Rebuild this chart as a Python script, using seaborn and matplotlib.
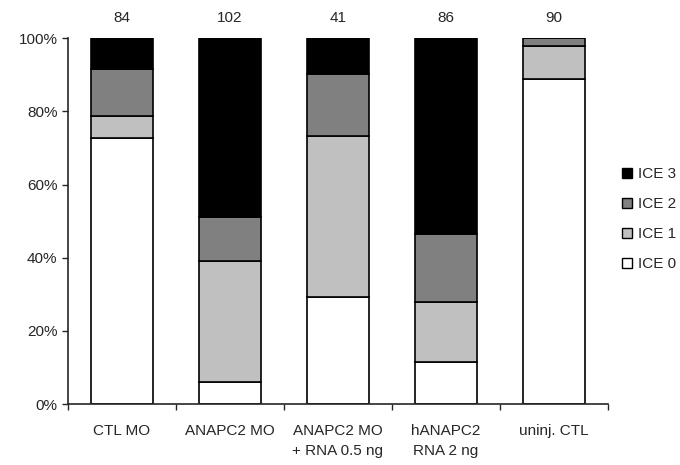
import matplotlib
matplotlib.use("Agg")
import matplotlib.pyplot as plt
import seaborn as sns
import numpy as np

# Data (percent of embryos per category)
categories = ["CTL MO", "ANAPC2 MO", "ANAPC2 MO\n+ RNA 0.5 ng", "hANAPC2\nRNA 2 ng", "uninj. CTL"]
n_embryos = [84, 102, 41, 86, 90]
ice0 = [72.6, 5.9, 29.3, 11.6, 88.9]
ice1 = [6.0, 33.3, 43.9, 16.3, 8.9]
ice2 = [13.1, 11.8, 17.1, 18.6, 2.2]
ice3 = [8.3, 49.0, 9.7, 53.5, 0.0]

layers = [("ICE 0", ice0, "white"), ("ICE 1", ice1, "#c0c0c0"),
          ("ICE 2", ice2, "#808080"), ("ICE 3", ice3, "black")]

sns.set_style("ticks")
plt.rcParams["font.family"] = ["Liberation Sans", "DejaVu Sans"]

fig = plt.figure(figsize=(6.8, 4.65), dpi=100)
ax = fig.add_axes([0.1, 0.131, 0.794, 0.787])

bottom = np.zeros(len(categories))
handles = []
for name, vals, col in layers:
    sns.barplot(x=categories, y=vals, bottom=bottom, color=col, edgecolor="black",
                linewidth=1.2, width=0.58, saturation=1, ax=ax)
    handles.append(plt.Rectangle((0, 0), 1, 1, facecolor=col, edgecolor="black", linewidth=1))
    bottom = bottom + np.array(vals)

ax.set_ylim(0, 100)
ax.set_xlim(-0.5, len(categories) - 0.5)
ax.set_yticks(range(0, 101, 20))
ax.set_yticklabels([f"{v}%" for v in range(0, 101, 20)], fontsize=11)
ax.set_xticks(range(len(categories)))
ax.set_xticklabels(categories, fontsize=11, va="top", ha="center", linespacing=1.6)
ax.tick_params(axis="x", length=0, pad=14)
ax.set_xticks(np.arange(-0.5, len(categories), 1), minor=True)
ax.tick_params(axis="x", which="minor", length=4, width=1, direction="out")
ax.tick_params(axis="y", length=4, width=1, direction="out")
ax.set_xlabel("")
ax.set_ylabel("")
sns.despine(ax=ax)
for s in ["left", "bottom"]:
    ax.spines[s].set_linewidth(1.2)

for i, n in enumerate(n_embryos):
    ax.text(i, 105.5, str(n), ha="center", va="center", fontsize=11, clip_on=False)

leg = ax.legend(handles[::-1], [l[0] for l in layers][::-1], loc="center left",
                bbox_to_anchor=(1.0, 0.505), frameon=False, fontsize=11,
                handlelength=0.65, handleheight=0.65, labelspacing=1.05, handletextpad=0.4)

fig.savefig("out.png", dpi=100)
